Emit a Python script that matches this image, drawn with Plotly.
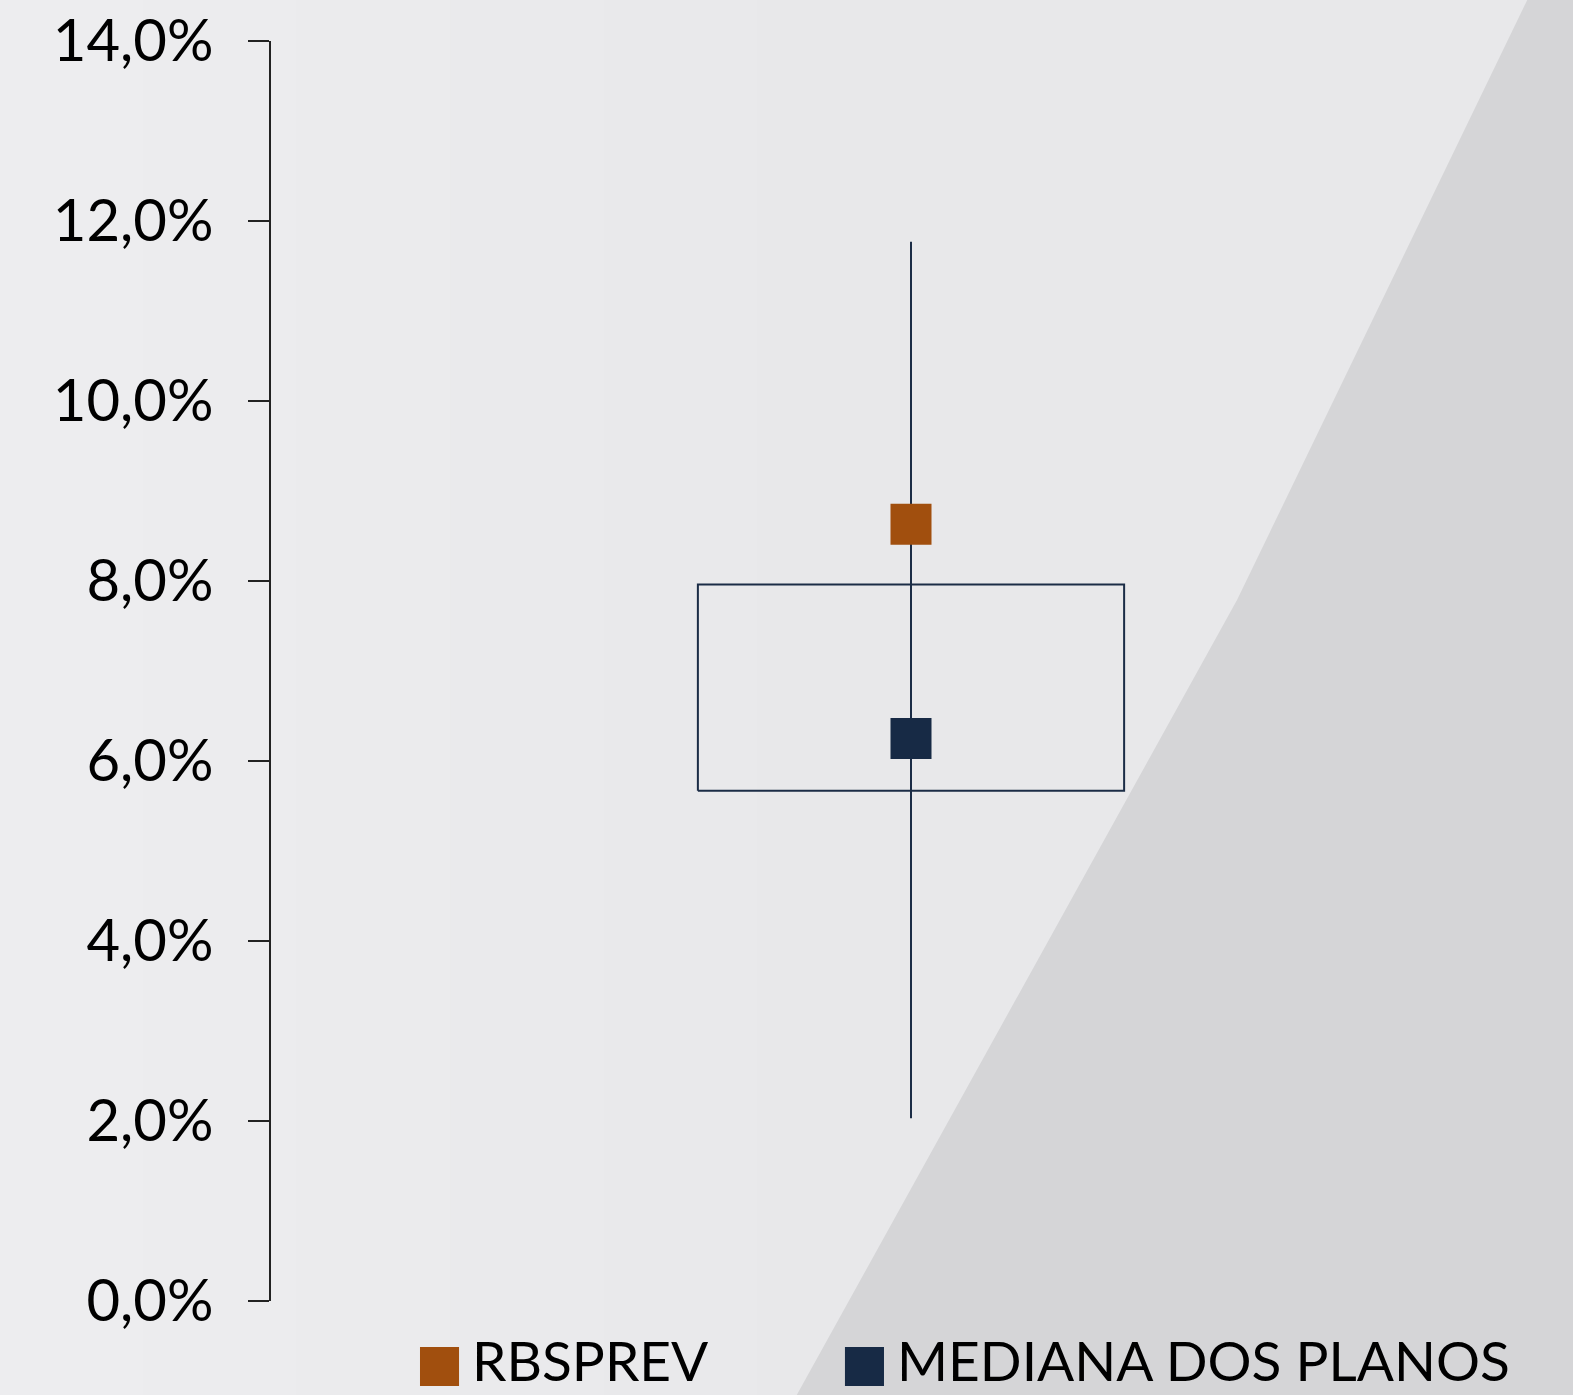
import plotly.graph_objects as go

# dados (em %)
minimo = [2.03]
maximo = [11.77]
quartil_inf = [5.67]
quartil_sup = [7.96]
rbsprev = [8.63]
mediana = [6.25]
series = ["RBSPREV", "MEDIANA DOS PLANOS"]
cores = ["#A14F0E", "#172A45"]
y_ticks = [0, 2, 4, 6, 8, 10, 12, 14]
y_labels = [f"{v:.1f}%".replace(".", ",") for v in y_ticks]

navy = "#1B2C46"
half = 0.333  # meia largura da caixa em unidades de x

fig = go.Figure()

# linha min-max
fig.add_trace(go.Scatter(
    x=[0, 0], y=[minimo[0], maximo[0]], mode="lines",
    line=dict(color=navy, width=2), showlegend=False, hoverinfo="skip"))

# caixa (quartis)
fig.add_trace(go.Scatter(
    x=[-half, half, half, -half, -half],
    y=[quartil_inf[0], quartil_inf[0], quartil_sup[0], quartil_sup[0], quartil_inf[0]],
    mode="lines", line=dict(color=navy, width=2), showlegend=False, hoverinfo="skip"))

# pontos
fig.add_trace(go.Scatter(
    x=[0], y=rbsprev, mode="markers", name=series[0],
    marker=dict(symbol="square", size=41, color=cores[0], line=dict(width=0)),
    showlegend=False))
fig.add_trace(go.Scatter(
    x=[0], y=mediana, mode="markers", name=series[1],
    marker=dict(symbol="square", size=41, color=cores[1], line=dict(width=0)),
    showlegend=False))

font = "Lato, Open Sans, sans-serif"

# fundo: leve degradê + faixa diagonal mais escura
shapes = []
bands = ["#EDEDEF", "#ECECEE", "#EBEBED", "#EAEAEC", "#E9E9EB", "#E8E8EA"]
for i, c in enumerate(bands):
    shapes.append(dict(type="rect", xref="paper", yref="paper",
                       x0=-0.22 + i * 0.12, x1=-0.22 + (i + 1) * 0.12, y0=-0.08, y1=1.04,
                       fillcolor=c, line=dict(width=0), layer="below"))
shapes.append(dict(type="path", xref="paper", yref="paper", layer="below",
                   path="M 0.985,1.04 L 0.7547,0.5563 L 0.4078,-0.08 L 1.03,-0.08 L 1.03,1.04 Z",
                   fillcolor="#D5D5D7", line=dict(width=0)))

# legenda manual (quadrados grandes)
leg_x = [0.1164, 0.4484]
leg_w = 0.0305
annotations = []
for i, nome in enumerate(series):
    shapes.append(dict(type="rect", xref="paper", yref="paper",
                       x0=leg_x[i], x1=leg_x[i] + leg_w, y0=-0.0675, y1=-0.0365,
                       fillcolor=cores[i], line=dict(width=0)))
    annotations.append(dict(xref="paper", yref="paper", x=leg_x[i] + leg_w + 0.009, y=-0.0735,
                            xanchor="left", yanchor="bottom", showarrow=False, borderpad=0,
                            text=nome, font=dict(family=font, size=55, color="#000000")))

fig.update_layout(
    width=1573, height=1395,
    margin=dict(l=271, r=22, t=41, b=94),
    paper_bgcolor="#E8E8EA",
    plot_bgcolor="rgba(0,0,0,0)",
    showlegend=False,
    shapes=shapes,
    annotations=annotations,
    xaxis=dict(range=[-1, 1], visible=False, fixedrange=True),
    yaxis=dict(
        range=[0, 14], tickvals=y_ticks, ticktext=y_labels, automargin=False,
        showgrid=False, zeroline=False, showline=True, linecolor="#222222", linewidth=2,
        ticks="outside", ticklen=21, tickwidth=2, tickcolor="#222222",
        ticklabelstandoff=23,
        tickfont=dict(family=font, size=58, color="#000000"),
    ),
)

fig.write_html("out.html", config={"displayModeBar": False},
               post_script="document.body.style.margin='0';")
